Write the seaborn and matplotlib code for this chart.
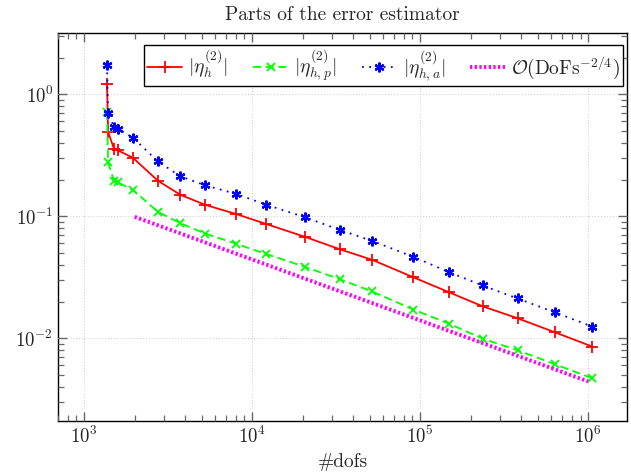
import numpy as np
import pandas as pd
import matplotlib
matplotlib.use("Agg")
import matplotlib.pyplot as plt
import seaborn as sns

# degrees of freedom per refinement step
dofs = [1370, 1390, 1509, 1593, 1958, 2746, 3743, 5272, 7993, 12070,
        20660, 33240, 51760, 91200, 147900, 234900, 379600, 633600, 1057000]

# estimator contributions
eta_h = [1.224, 0.492, 0.356, 0.347, 0.301, 0.196, 0.150, 0.124, 0.1046, 0.0867,
         0.0678, 0.0537, 0.0440, 0.0316, 0.0239, 0.0183, 0.0146, 0.0112, 0.00855]
eta_hp = [0.72, 0.277, 0.194, 0.190, 0.164, 0.109, 0.0877, 0.0722, 0.0597, 0.0492,
          0.0385, 0.0305, 0.0242, 0.0172, 0.0132, 0.00995, 0.00798, 0.00613, 0.00470]
eta_ha = [1.73, 0.705, 0.537, 0.520, 0.441, 0.282, 0.213, 0.179, 0.153, 0.1247,
          0.0982, 0.0774, 0.0629, 0.0465, 0.0349, 0.0271, 0.0212, 0.0163, 0.01247]

# reference slope line
ref_x = [2000, 1000000]
ref_y = [0.099, 0.00443]

labels = [r"$|\eta_h^{(2)}|$", r"$|\eta_{h,p}^{(2)}|$", r"$|\eta_{h,a}^{(2)}|$",
          r"$\mathcal{O}(\mathrm{DoFs}^{-2/4})$"]

sns.set_theme(style="ticks")
plt.rcParams["font.family"] = ["cmr10"]
plt.rcParams["mathtext.fontset"] = "cm"
plt.rcParams["axes.formatter.use_mathtext"] = True
plt.rcParams["axes.unicode_minus"] = False
plt.rcParams["axes.axisbelow"] = False

fig = plt.figure(figsize=(6.31, 4.74), dpi=100)
ax = fig.add_axes([58 / 631, 1 - 421 / 474, (627 - 58) / 631, (421 - 33) / 474])

styles = [
    dict(color="#ff0000", linestyle="-", marker="+", markersize=9,
         markeredgewidth=1.3, linewidth=1.3, zorder=3),
    dict(color="#00ff00", linestyle=(0, (4.5, 2.5)), marker="x", markersize=5.5,
         markeredgewidth=1.3, linewidth=1.3, zorder=3),
    dict(color="#0000ff", linestyle=(0, (1, 3)), marker=(6, 2, 0), markersize=7,
         markeredgewidth=1.6, linewidth=1.3, zorder=3),
    dict(color="#ff00ff", linestyle=(0, (0.6, 0.6)), marker="None", linewidth=2.8,
         zorder=3),
]

handles = []
for xs, ys, lab, st in zip([dofs, dofs, dofs, ref_x],
                           [eta_h, eta_hp, eta_ha, ref_y], labels, styles):
    df = pd.DataFrame({"dofs": xs, "val": ys})
    n_before = len(ax.lines)
    sns.lineplot(data=df, x="dofs", y="val", ax=ax, sort=False, estimator=None,
                 color=st["color"], legend=False)
    line = ax.lines[n_before]
    line.set(**st)
    line.set_markeredgecolor(st["color"])
    line.set_markerfacecolor(st["color"])
    line.set_label(lab)
    handles.append(line)

ax.set_xscale("log")
ax.set_yscale("log")
ax.set_xlim(700, 1.7e6)
ax.set_ylim(2.1e-3, 3.18)

ax.grid(True, which="major", linestyle=(0, (1, 2)), color="#cccccc", linewidth=0.7,
        zorder=1)
ax.minorticks_on()
ax.tick_params(axis="both", which="both", direction="in", bottom=True, left=True,
               top=True, right=True, labelsize=13.5)
ax.tick_params(axis="both", which="major", length=6.5, width=1.0, color="#666666")
ax.tick_params(axis="both", which="minor", length=4, width=0.9, color="#666666")
for sp in ax.spines.values():
    sp.set_visible(True)
    sp.set_color("black")
    sp.set_linewidth(1.0)

ax.set_xlabel("#dofs", fontsize=14, labelpad=4)
ax.set_ylabel("")
ax.set_title("Parts of the error estimator", fontsize=14, pad=9)

leg = ax.legend(handles=handles, loc="upper right", ncol=4, fontsize=14, frameon=True,
                fancybox=False, edgecolor="black", framealpha=1, handlelength=1.8,
                columnspacing=1.3, handletextpad=0.3, borderpad=0.15, borderaxespad=0,
                bbox_to_anchor=(0.993, 0.969))
leg.get_frame().set_linewidth(1.0)
leg.set_zorder(5)

fig.savefig("out.png", dpi=100)
